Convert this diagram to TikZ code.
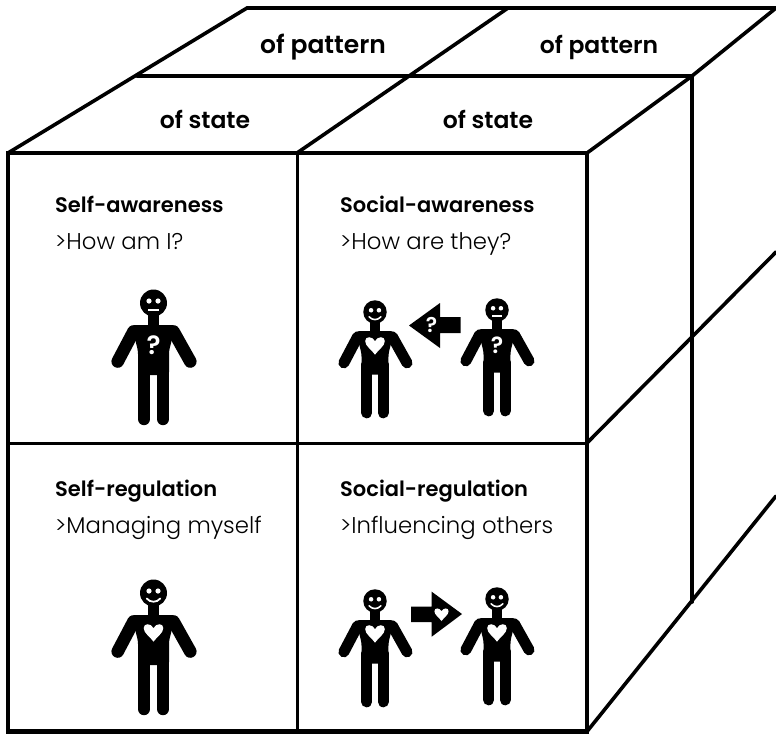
\documentclass[tikz,border=0pt]{standalone}
\usepackage{fontspec}
\setmainfont{Poppins}
\newfontfamily\headfont{Poppins SemiBold}
\newfontfamily\subfont{Poppins Light}
\tikzset{
  edge/.style={line width=3.6pt,line cap=round,line join=miter},
  outer/.style={line width=4.6pt,line cap=butt,line join=miter},
  inner/.style={line width=3pt},
  heading/.style={anchor=base west,inner sep=0pt,font=\headfont\fontsize{21}{24}\selectfont},
  sub/.style={anchor=base west,inner sep=0pt,font=\subfont\fontsize{22.8}{26}\selectfont},
  top/.style={anchor=base,inner sep=0pt,font=\headfont\fontsize{23.5}{26}\selectfont},
  qmark/.style={inner sep=0pt,text=white,font=\headfont\fontsize{#1}{#1}\selectfont},
  qmark/.default=26
}
\newcommand{\heartpath}{(0,9) .. controls (-5,3) and (-14,-1) .. (-14,-7) .. controls (-14,-13) and (-4,-13) .. (0,-7) .. controls (4,-13) and (14,-13) .. (14,-7) .. controls (14,-1) and (5,3) .. (0,9) -- cycle}
% #1 head centre, #2 scale
\newcommand{\bodyshape}[2]{%
\begin{scope}[shift={(#1)},scale=#2]
 \fill (0,0) circle (13.5);
 \fill (-5.3,10) rectangle (5.3,24);
 \draw[line width=#2*12.6pt,line cap=round] (-20,28.5) -- (-35.8,58.5);
 \draw[line width=#2*12.6pt,line cap=round] (20,28.5) -- (36.8,58.5);
 \fill[rounded corners=3pt] (-22,22) -- (22,22) -- (15.5,48) -- (15.5,72) -- (-15.5,72) -- (-15.5,48) -- cycle;
 \draw[line width=#2*12.4pt,line cap=round] (-9.5,60) -- (-9.5,116);
 \draw[line width=#2*12.4pt,line cap=round] (9.5,60) -- (9.5,116);
 \fill[white] (-4.5,-2) circle (2.6) (4.5,-2) circle (2.6);
\end{scope}}
\newcommand{\neutralface}[2]{\begin{scope}[shift={(#1)},scale=#2]
 \fill[white] (-5.5,6) rectangle (5.5,7.7);
\end{scope}}
\newcommand{\smileface}[2]{\begin{scope}[shift={(#1)},scale=#2]
 \draw[white,line width=#2*1.8pt,line cap=round] (-6.8,5.5) .. controls (-3,9.8) and (3,9.8) .. (6.8,5.5);
\end{scope}}
\newcommand{\heartat}[2]{\begin{scope}[shift={(#1)},xscale=#2*0.7,yscale=#2*0.85]\fill[white] \heartpath;\end{scope}}
\begin{document}
\begin{tikzpicture}[x=1pt,y=-1pt]
\useasboundingbox (0,0) rectangle (776,734);
\coordinate (tl) at (8,153); \coordinate (tm) at (297,153); \coordinate (tr) at (587,153);
\coordinate (ml) at (8,443); \coordinate (mr) at (587,443);
\coordinate (bl) at (8,731.5); \coordinate (bm) at (297,731.5); \coordinate (br) at (587,731.5);
\draw[edge] (tl) -- (247,8) -- (776,8);
\draw[edge] (tm) -- (508,8);
\draw[edge] (137,76) -- (692,76) -- (692,602);
\draw[edge] (tr) -- (692,76) -- (776,8);
\draw[edge] (mr) -- (776,252);
\draw[edge] (br) -- (776,496);
\draw[outer] (tl) -- (tr) -- (br) -- (bl) -- cycle;
\draw[inner] (tm) -- (bm) (ml) -- (mr);
\node[top,font=\headfont\fontsize{25}{26}\selectfont] (p1) at (323,53) {of pattern};
\node[top] (p2) at (599,53) {of pattern};
\node[top] (s1) at (205,128) {of state};
\node[top] (s2) at (488,128) {of state};
\node[heading] (a) at (55,212) {Self-awareness};
\node[sub] (a2) at (55,249) {>How am I?};
\node[heading] (b) at (340,212) {Social-awareness};
\node[sub] (b2) at (340,249) {>How are they?};
\node[heading] (c) at (55,496) {Self-regulation};
\node[sub] (c2) at (55,533) {>Managing myself};
\node[heading] (d) at (340,496) {Social-regulation};
\node[sub] (d2) at (340,533) {>Influencing others};
\bodyshape{153.5,303}{1}\neutralface{153.5,303}{1}\node[qmark] (q1) at (153.5,345) {?};
\bodyshape{375,312}{0.87}\smileface{375,312}{0.87}\heartat{375,347}{1}
\bodyshape{497,310}{0.87}\neutralface{497,310}{0.87}\node[qmark=23] (q2) at (497,345) {?};
\bodyshape{153.5,593}{1}\smileface{153.5,593}{1}\heartat{153.5,634}{1}
\bodyshape{375,601}{0.87}\smileface{375,601}{0.87}\heartat{375,635}{1}
\bodyshape{497,599}{0.87}\smileface{497,599}{0.87}\heartat{497,634}{1}
\fill (460.5,317) -- (440,317) -- (440,303) -- (409,325.5) -- (440,348) -- (440,333) -- (460.5,333) -- cycle;
\node[qmark=21] (q3) at (431.5,325) {?};
\fill (411,606.7) -- (431.7,606.7) -- (431.7,591.7) -- (462,614) -- (431.7,636.7) -- (431.7,622) -- (411,622) -- cycle;
\heartat{441.5,615.5}{0.72}
\end{tikzpicture}
\end{document}
